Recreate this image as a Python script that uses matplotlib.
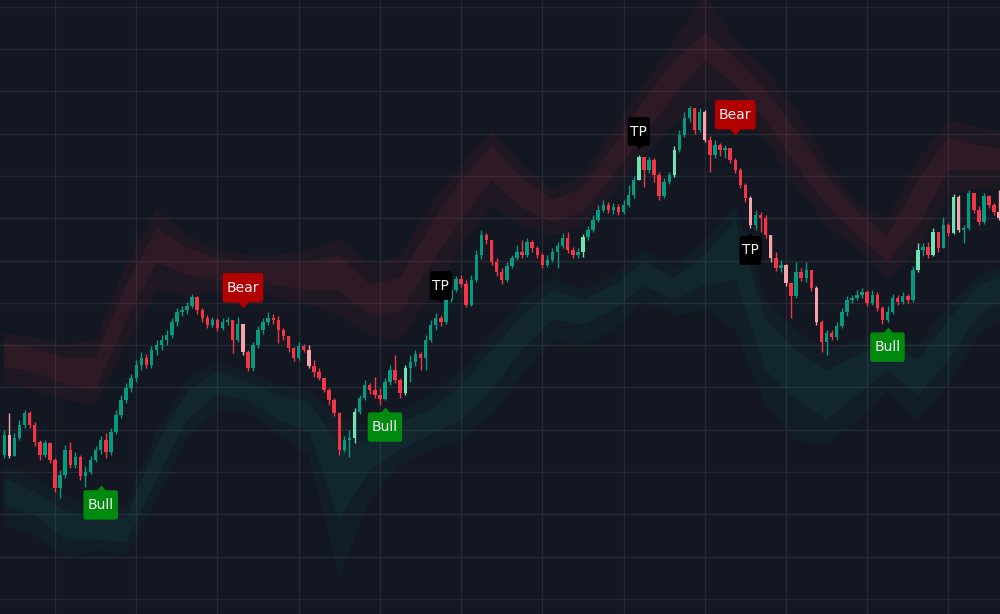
import numpy as np
import matplotlib
matplotlib.use("Agg")
import matplotlib.pyplot as plt

BG, GRID = "#131722", "#252935"
UP, DOWN = "#089981", "#f23645"
UP_HI, DOWN_HI = "#6fe3b6", "#f7a3aa"
BEAR_C, BULL_C, TP_C = "#b20000", "#008a0e", "#000000"

# OHLC (open of each bar = previous close)
first_open = 134.0
close = [138.8, 133.8, 138.1, 141.1, 144.0, 141.1, 137.1, 134.0, 136.9, 132.9,
         126.2, 129.3, 135.2, 131.7, 133.6, 129.1, 130.0, 132.9, 135.2, 137.6,
         134.8, 139.5, 143.5, 147.0, 149.9, 152.2, 155.3, 157.0, 155.3, 158.9,
         160.0, 161.2, 162.4, 165.5, 167.8, 168.3, 169.3, 171.4, 168.3, 166.4,
         164.8, 166.0, 164.1, 165.5, 166.0, 161.2, 165.0, 158.4, 154.6, 160.0,
         163.6, 165.5, 166.4, 166.0, 163.6, 162.2, 159.3, 157.0, 159.8, 158.9,
         155.1, 153.7, 152.2, 149.4, 147.0, 144.0, 135.2, 137.6, 138.1, 144.2,
         147.5, 150.6, 149.4, 148.2, 147.3, 151.3, 154.1, 151.8, 148.7, 154.6,
         156.0, 157.9, 157.0, 161.2, 164.8, 166.4, 165.5, 170.7, 173.0, 175.6,
         174.5, 169.5, 175.4, 181.3, 186.0, 184.9, 179.7, 177.3, 175.4, 178.7,
         180.6, 182.0, 181.3, 184.4, 183.0, 181.3, 179.0, 180.1, 182.0, 183.4,
         185.3, 182.5, 181.3, 182.0, 185.6, 187.2, 189.6, 192.0, 193.1, 192.0,
         192.7, 191.5, 193.1, 195.5, 199.0, 204.5, 201.4, 203.8, 200.2, 195.3,
         198.6, 200.2, 206.1, 209.7, 213.7, 216.1, 210.9, 215.1, 208.5, 205.0,
         207.3, 206.1, 206.6, 203.8, 201.4, 197.9, 194.8, 188.4, 190.8, 190.1,
         186.0, 180.6, 178.2, 179.0, 174.7, 171.6, 177.3, 175.9, 177.8, 173.5,
         165.5, 160.8, 162.9, 161.9, 164.5, 167.8, 170.7, 171.2, 171.9, 172.6,
         170.0, 171.9, 168.8, 166.0, 167.8, 171.2, 170.2, 171.6, 170.7, 177.8,
         182.5, 183.2, 181.3, 186.8, 183.0, 188.4, 186.5, 195.0, 187.2, 187.7,
         196.0, 192.0, 189.1, 195.3, 193.1, 191.5, 190.1]
high = [140.0, 144.0, 139.2, 142.3, 144.7, 144.4, 141.8, 137.6, 137.6, 137.1,
        133.3, 130.5, 136.4, 137.1, 134.8, 134.0, 131.4, 133.8, 136.2, 138.5,
        139.2, 140.4, 144.7, 148.2, 151.1, 153.2, 156.5, 158.4, 157.9, 159.8,
        161.2, 162.4, 163.6, 166.4, 168.8, 169.3, 170.2, 172.1, 171.6, 168.8,
        167.1, 166.7, 166.4, 166.4, 166.7, 166.0, 166.7, 165.0, 158.9, 160.8,
        164.5, 166.4, 167.8, 167.4, 166.9, 164.1, 162.2, 159.6, 160.8, 160.3,
        160.0, 156.5, 154.6, 152.2, 149.9, 147.5, 144.2, 138.5, 140.0, 145.1,
        148.2, 151.8, 151.1, 152.5, 149.9, 152.2, 155.3, 157.7, 152.2, 155.3,
        157.7, 158.9, 158.4, 162.4, 166.0, 167.6, 167.1, 171.6, 174.0, 176.4,
        176.6, 175.4, 176.6, 182.5, 187.2, 186.5, 184.9, 180.6, 178.2, 179.7,
        181.3, 183.7, 184.9, 185.3, 184.9, 183.4, 181.8, 181.3, 183.0, 184.4,
        186.5, 186.8, 183.2, 183.0, 186.3, 188.2, 190.8, 193.1, 194.3, 193.9,
        193.6, 193.4, 194.3, 197.9, 200.0, 205.0, 204.5, 204.5, 204.2, 200.9,
        199.5, 200.9, 207.1, 210.9, 215.1, 216.5, 216.1, 216.1, 215.6, 209.4,
        208.5, 207.8, 207.3, 206.6, 204.2, 201.9, 198.3, 195.3, 192.0, 191.5,
        190.8, 186.0, 182.0, 180.1, 179.2, 174.9, 179.7, 178.2, 179.7, 177.8,
        174.0, 166.0, 163.6, 163.6, 165.5, 168.8, 171.6, 171.9, 173.0, 173.5,
        173.0, 173.0, 172.6, 169.3, 169.3, 172.1, 171.9, 172.6, 172.1, 178.7,
        184.2, 184.2, 184.4, 187.7, 186.3, 190.3, 188.9, 195.7, 195.5, 188.4,
        196.7, 196.0, 192.9, 196.0, 195.5, 193.6, 196.7]
low = [133.3, 133.3, 133.8, 137.6, 140.4, 140.4, 136.2, 132.9, 133.6, 132.1,
       125.3, 123.9, 128.6, 131.0, 131.0, 128.1, 126.5, 129.5, 132.4, 134.3,
       133.3, 134.0, 139.0, 142.8, 146.3, 148.9, 151.3, 154.1, 154.6, 154.6,
       157.7, 158.9, 160.0, 161.7, 164.5, 166.9, 167.4, 168.8, 167.4, 165.5,
       164.1, 164.3, 163.4, 163.6, 164.8, 158.2, 160.8, 157.7, 153.9, 153.9,
       159.3, 162.6, 164.8, 165.0, 160.5, 161.2, 158.4, 156.3, 156.5, 158.4,
       154.6, 152.5, 151.8, 148.9, 145.9, 143.3, 134.0, 134.8, 133.6, 136.9,
       143.7, 147.0, 148.5, 147.5, 145.9, 147.0, 150.6, 151.1, 147.5, 148.2,
       151.3, 155.1, 154.1, 154.1, 160.8, 163.6, 164.5, 165.0, 170.2, 172.6,
       173.8, 169.0, 169.3, 174.9, 180.4, 183.9, 179.0, 176.4, 174.5, 174.9,
       178.2, 180.1, 180.6, 180.8, 182.0, 180.6, 178.2, 178.5, 179.7, 178.2,
       183.0, 181.8, 180.6, 180.6, 180.8, 184.9, 186.8, 189.1, 191.5, 191.2,
       191.0, 190.8, 191.0, 192.7, 194.8, 199.0, 197.4, 200.7, 198.6, 194.3,
       194.8, 198.1, 199.7, 205.7, 209.2, 212.8, 209.9, 210.4, 208.0, 200.9,
       204.2, 204.7, 204.2, 203.1, 200.7, 197.2, 193.9, 187.7, 187.2, 186.8,
       185.3, 179.7, 177.5, 177.3, 174.0, 166.4, 171.2, 175.2, 174.9, 172.8,
       164.8, 158.4, 157.7, 161.2, 161.2, 164.1, 166.9, 170.0, 170.7, 171.2,
       169.3, 169.5, 168.1, 165.0, 165.5, 167.4, 169.5, 169.7, 170.0, 170.2,
       177.3, 181.1, 180.6, 181.1, 182.0, 183.0, 185.8, 186.3, 186.8, 184.2,
       187.2, 191.2, 188.4, 188.6, 192.4, 190.8, 189.6]
bright = [1, 47, 60, 69, 79, 114, 125, 132, 138, 147, 151, 154, 160,
          180, 183, 187, 188, 196]

# volatility bands, one sample every 6 bars
band_step = 6
upper_edge = [162.9, 161.7, 160.0, 161.2, 179.0, 192.0, 186.0, 182.5, 181.3, 181.3,
              182.5, 184.9, 179.0, 181.3, 193.1, 202.6, 210.9, 202.6, 196.7, 200.2,
              210.9, 221.5, 232.1, 243.0, 232.1, 225.1, 215.6, 203.8, 193.1, 190.1,
              203.8, 213.2, 211.3, 210.4]
upper_core_top = [160.8, 159.3, 157.0, 157.0, 174.2, 187.7, 183.0, 180.6, 179.7, 179.4,
                  179.7, 181.3, 174.2, 175.9, 188.4, 199.0, 207.3, 199.5, 194.3, 197.2,
                  207.3, 218.0, 227.4, 233.8, 227.9, 220.3, 210.9, 200.2, 191.5, 186.0,
                  199.0, 209.0, 207.3, 206.1]
upper_core_bot = [154.8, 153.7, 150.6, 149.4, 166.0, 179.7, 176.6, 175.4, 174.9, 174.2,
                  173.0, 173.0, 167.1, 167.8, 179.0, 189.6, 199.0, 192.4, 189.1, 191.5,
                  200.2, 209.7, 219.1, 227.4, 221.5, 213.2, 202.6, 193.1, 186.0, 179.7,
                  188.4, 201.4, 201.4, 200.9]
upper_inner = [151.1, 149.4, 147.0, 145.9, 160.0, 173.0, 171.9, 172.6, 173.0, 171.4,
               169.5, 167.1, 162.4, 161.2, 171.9, 183.0, 193.1, 188.4, 186.0, 188.4,
               196.2, 205.0, 212.1, 218.0, 215.6, 208.5, 197.9, 188.4, 183.0, 176.1,
               182.5, 195.5, 197.2, 196.7]
lower_inner = [131.7, 128.6, 124.6, 121.0, 122.2, 140.0, 151.8, 156.0, 153.7, 150.6,
               149.4, 142.3, 141.1, 144.7, 148.2, 154.1, 162.4, 170.7, 175.9, 173.0,
               176.6, 182.5, 178.2, 184.9, 193.1, 170.7, 163.6, 158.9, 161.2, 163.6,
               160.0, 169.5, 176.6, 179.7]
lower_core_top = [128.6, 125.3, 121.0, 118.7, 119.1, 136.4, 148.9, 153.7, 151.3, 148.2,
                  146.6, 136.4, 137.6, 141.8, 144.7, 150.6, 158.9, 167.1, 173.0, 170.7,
                  174.2, 179.7, 175.9, 181.3, 189.6, 166.0, 158.9, 154.1, 157.7, 161.2,
                  156.5, 166.0, 174.2, 177.3]
lower_core_bot = [122.2, 119.9, 114.0, 114.0, 113.5, 128.1, 142.3, 148.2, 147.0, 142.3,
                  139.5, 118.7, 130.5, 135.2, 138.8, 142.3, 149.4, 158.9, 166.0, 164.8,
                  168.3, 174.2, 170.7, 174.2, 175.4, 154.1, 147.0, 142.3, 148.2, 154.1,
                  148.2, 156.5, 167.1, 171.9]
lower_edge = [117.5, 115.1, 109.2, 111.6, 110.4, 123.4, 137.6, 144.7, 144.2, 138.8,
              134.0, 105.7, 123.4, 131.7, 135.2, 137.6, 143.5, 152.9, 161.2, 160.0,
              163.6, 170.7, 167.1, 168.3, 163.6, 145.9, 137.6, 136.4, 142.3, 149.4,
              142.3, 150.6, 162.4, 168.3]

# signal labels: text, bar, price of arrow tip, points down?
labels = [("Bear", -3, 146.1, True), ("Bear", 47, 168.8, True), ("Bear", 144, 209.7, True),
          ("Bull", 19, 127.0, False), ("Bull", 75, 145.4, False), ("Bull", 174, 164.3, False),
          ("TP", 86, 170.0, True), ("TP", 125, 206.4, True), ("TP", 147, 186.5, False)]

n = len(close)
x = np.arange(n)
c = np.array(close)
o = np.array([first_open] + close[:-1])
hi = np.maximum(np.array(high), np.maximum(o, c))
lo = np.minimum(np.array(low), np.minimum(o, c))
up = c >= o
cols = []
for i in range(n):
    if i in bright:
        cols.append(UP_HI if up[i] else DOWN_HI)
    else:
        cols.append(UP if up[i] else DOWN)

fig = plt.figure(figsize=(10, 6.14), dpi=100, facecolor=BG)
ax = fig.add_axes([0, 0, 1, 1], facecolor=BG)

bx = np.arange(len(upper_edge)) * band_step
ax.fill_between(bx, upper_edge, upper_inner, color=DOWN, alpha=0.055, lw=0)
ax.fill_between(bx, upper_core_top, upper_core_bot, color=DOWN, alpha=0.07, lw=0)
ax.fill_between(bx, lower_inner, lower_edge, color=UP, alpha=0.055, lw=0)
ax.fill_between(bx, lower_core_top, lower_core_bot, color=UP, alpha=0.07, lw=0)

ax.vlines(x, lo, hi, colors=cols, lw=1, zorder=3)
ax.bar(x, np.maximum(np.abs(c - o), 0.25), bottom=np.minimum(o, c), width=0.68,
       color=cols, lw=0, zorder=3)

for txt, bar, price, down in labels:
    fc = {"Bear": BEAR_C, "Bull": BULL_C, "TP": TP_C}[txt]
    tri = [(0, 0), (-0.85, 1), (0.85, 1)] if down else [(0, 0), (-0.85, -1), (0.85, -1)]
    ax.plot([bar], [price], marker=tri, ms=14, color=fc, mew=0, zorder=4)
    if txt == "TP":
        off, pad, asp = 12.5, 0.19, 2.8
    else:
        off, pad, asp = 14.5, 0.3, 1.85
    ax.annotate(txt, (bar, price), xytext=(0, off if down else -off), textcoords="offset points",
                ha="center", va="center", fontsize=10, color="#f0f0f0", zorder=5,
                bbox=dict(boxstyle=f"round,pad={pad},rounding_size=0.12", fc=fc, ec="none",
                          mutation_aspect=asp))

ax.set_xlim(-0.84, n - 0.84)
ax.set_ylim(96.45, 241.6)
ax.set_xticks(range(10, n, 16))
ax.set_yticks(range(100, 241, 10))
ax.grid(color=GRID, lw=1)
ax.set_axisbelow(True)
ax.tick_params(length=0, labelbottom=False, labelleft=False)
for s in ax.spines.values():
    s.set_visible(False)

fig.savefig("out.png", dpi=100, facecolor=BG)
